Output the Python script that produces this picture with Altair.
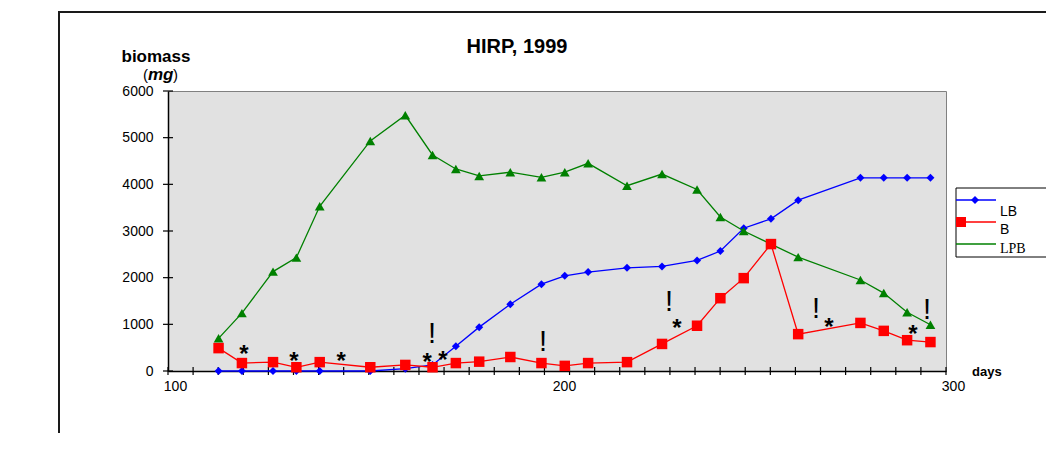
import altair as alt
import pandas as pd

# ---- data ----
days = [113, 119, 127, 133, 139, 152, 161, 168, 174, 180, 188, 196, 202, 208,
        218, 227, 236, 242, 248, 255, 262, 278, 284, 290, 296]
lb = [0, 0, 0, 0, 0, 0, 50, 130, 530, 940, 1430, 1860, 2040, 2120,
      2210, 2240, 2370, 2570, 3060, 3260, 3660, 4140, 4140, 4140, 4140]
b = [490, 170, 190, 80, 190, 80, 130, 80, 170, 200, 300, 170, 110, 170,
     190, 580, 970, 1560, 1990, 2720, 790, 1030, 860, 660, 620]
lpb = [700, 1240, 2130, 2430, 3530, 4930, 5480, 4630, 4330, 4180, 4260, 4150, 4260, 4450,
       3970, 4220, 3890, 3300, 3000, 2720, 2440, 1950, 1670, 1260, 990]

series_names = ["LB", "B", "LPB"]
series_values = [lb, b, lpb]
series_colors = ["#0000ff", "#ff0000", "#008000"]
series_shapes = ["diamond", "square", "triangle-up"]

x_label_values = [100, 200, 300]
y_label_values = [0, 1000, 2000, 3000, 4000, 5000, 6000]
x_tick_count = 31  # minor tick intervals on the x axis

star_days = [119.5, 132.4, 144.5, 166.6, 170.7, 230.8, 269.9, 291.5]
star_vals = [493, 343, 343, 321, 364, 1050, 1071, 921]
bang_days = [167.9, 196.4, 228.8, 266.6, 295.1]
bang_vals = [836, 664, 1521, 1371, 1350]

title_text = "HIRP, 1999"
y_title = "biomass"
x_title = "days"

W, H = 778, 280
FONT = "Liberation Sans"

x_scale = alt.Scale(domain=[100, 300], nice=False, zero=False)
y_scale = alt.Scale(domain=[0, 6000], nice=False, zero=True)

x_axis = alt.Axis(values=x_label_values, title=None, ticks=False, grid=False,
                  labelOffset=7, labelFlush=False, labelFontSize=14, labelPadding=8,
                  labelFont=FONT, labelColor="black", domainColor="black",
                  domainWidth=1.5, format="d")
y_axis = alt.Axis(values=y_label_values, title=None, ticks=False, grid=False,
                  labelFontSize=14, labelPadding=15, labelFont=FONT, format="d",
                  labelColor="black", domainColor="black", domainWidth=1.5)

layers = []

# axes carrier + cross ticks
ytick_df = pd.DataFrame({"v": y_label_values})
layers.append(
    alt.Chart(ytick_df).mark_rule(color="black", strokeWidth=1.2).encode(
        y=alt.Y("v:Q", scale=y_scale, axis=y_axis), x=alt.value(-5), x2=alt.value(5))
)
xtick_df = pd.DataFrame({"d": [100 + i * 200 / x_tick_count for i in range(x_tick_count + 1)]})
layers.append(
    alt.Chart(xtick_df).mark_rule(color="black", strokeWidth=1.2).encode(
        x=alt.X("d:Q", scale=x_scale, axis=x_axis), y=alt.value(H - 4), y2=alt.value(H + 4))
)

# series
sizes = {"diamond": 64, "square": 110, "triangle-up": 95}
for name, vals, col, shp in [(series_names[i], series_values[i], series_colors[i], series_shapes[i])
                             for i in [0, 2, 1]]:
    df = pd.DataFrame({"day": days, "value": vals, "series": name})
    base = alt.Chart(df).encode(
        x=alt.X("day:Q", scale=x_scale, axis=x_axis),
        y=alt.Y("value:Q", scale=y_scale, axis=y_axis),
    )
    layers.append(base.mark_line(color=col, strokeWidth=1.3))
    layers.append(base.mark_point(shape=shp, filled=True, opacity=1, color=col, size=sizes[shp]))

# annotations
star_df = pd.DataFrame({"day": star_days, "value": star_vals, "t": "*"})
bang_df = pd.DataFrame({"day": bang_days, "value": bang_vals, "t": "!"})
layers.append(alt.Chart(star_df).mark_text(font=FONT, fontSize=24, fontWeight="bold",
                                           baseline="alphabetic", dy=14, color="black").encode(
    x=alt.X("day:Q", scale=x_scale), y=alt.Y("value:Q", scale=y_scale), text="t:N"))
layers.append(alt.Chart(bang_df).mark_text(font=FONT, fontSize=29, baseline="alphabetic",
                                           dy=11, color="black").encode(
    x=alt.X("day:Q", scale=x_scale), y=alt.Y("value:Q", scale=y_scale), text="t:N"))


def txt(s, x, y, **kw):
    return alt.Chart(alt.Data(values=[{"t": s}])).mark_text(
        font=kw.pop("font", FONT), color="black", **kw).encode(
        text="t:N", x=alt.value(x), y=alt.value(y))


layers.append(txt(title_text, 349, -44, fontSize=20, fontWeight="bold", baseline="middle"))
layers.append(txt(y_title, -12, -34, fontSize=17, fontWeight="bold", baseline="middle"))
layers.append(txt("(", -20, -16, fontSize=15, baseline="middle", align="right"))
layers.append(txt("mg", -20, -16, fontSize=17, fontWeight="bold", fontStyle="italic",
                  baseline="middle", align="left"))
layers.append(txt(")", 5, -16, fontSize=15, baseline="middle", align="left"))
layers.append(txt(x_title, 804, 281, fontSize=13, fontWeight="bold", baseline="middle", align="left"))

# frame
one = alt.Data(values=[{"a": 1}])
layers.append(alt.Chart(one).mark_rule(color="#1a1a1a", strokeWidth=2).encode(
    x=alt.value(-109), y=alt.value(-79), y2=alt.value(H + 70)))
layers.append(alt.Chart(one).mark_rule(color="#1a1a1a", strokeWidth=2).encode(
    x=alt.value(-110), x2=alt.value(W + 120), y=alt.value(-79)))

# legend
layers.append(alt.Chart(one).mark_rect(fill="white", stroke="black", strokeWidth=1).encode(
    x=alt.value(788), x2=alt.value(W + 140), y=alt.value(97), y2=alt.value(166)))
leg_line_y = [109, 131, 153]
leg_text_y = [121, 139, 158]
for i, name in enumerate(series_names):
    col = series_colors[i]
    layers.append(alt.Chart(one).mark_rule(color=col, strokeWidth=1.3).encode(
        x=alt.value(788), x2=alt.value(828), y=alt.value(leg_line_y[i])))
    if i == 0:
        layers.append(alt.Chart(one).mark_point(shape="diamond", filled=True, opacity=1,
                                                color=col, size=64).encode(
            x=alt.value(807), y=alt.value(leg_line_y[i])))
    if i == 1:
        layers.append(alt.Chart(one).mark_point(shape="square", filled=True, opacity=1,
                                                color=col, size=100).encode(
            x=alt.value(793), y=alt.value(leg_line_y[i])))
    if i == 2:
        layers.append(txt(name, 832, leg_text_y[i], fontSize=14, font="Liberation Serif",
                          baseline="middle", align="left"))
    else:
        layers.append(txt(name, 832, leg_text_y[i], fontSize=14, baseline="middle", align="left"))

chart = alt.layer(*layers).properties(
    width=W, height=H,
    padding={"left": 160, "top": 83, "right": 100, "bottom": 62},
    autosize=alt.AutoSizeParams(type="none"),
    background="white",
).configure_view(fill="#e1e1e1", stroke="#808080", strokeWidth=1)

chart.save("out.html", embed_options={"renderer": "svg", "actions": False})
